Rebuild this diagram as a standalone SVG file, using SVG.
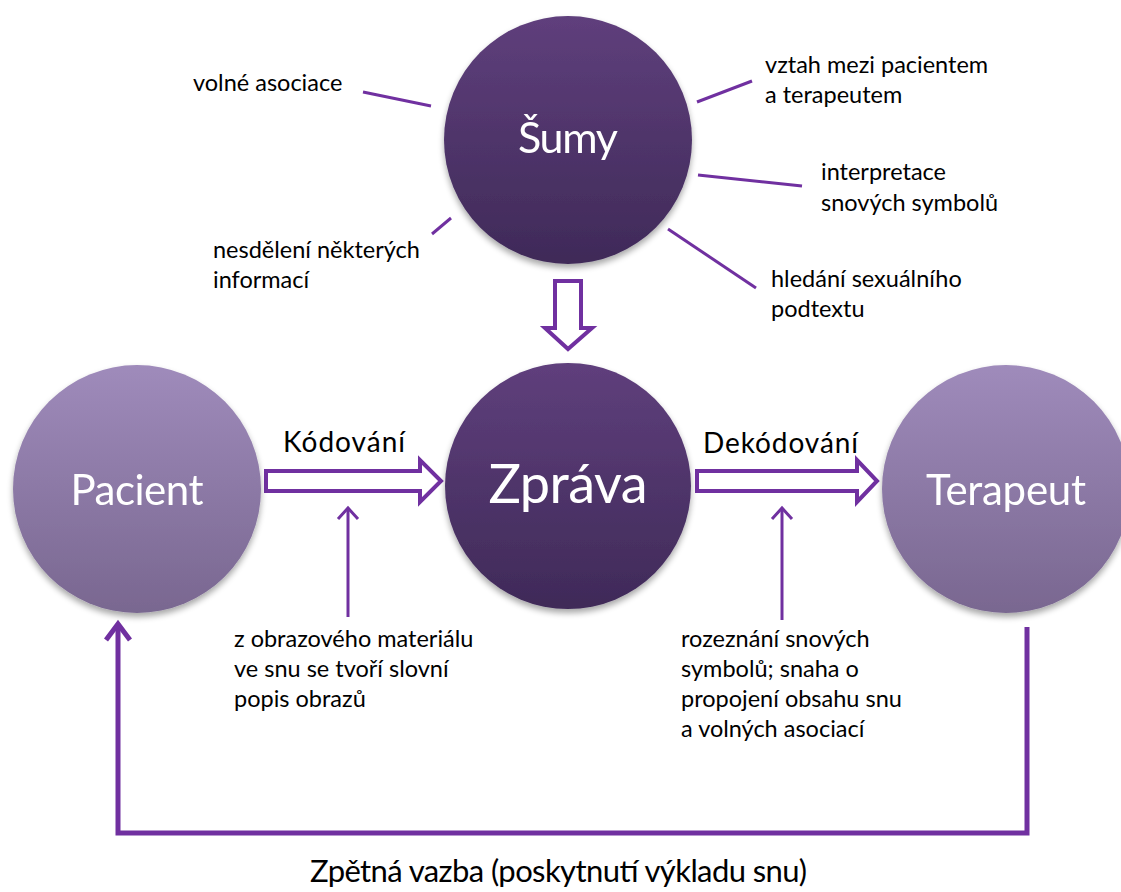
<svg xmlns="http://www.w3.org/2000/svg" width="1121" height="892" viewBox="0 0 1121 892">
<defs>
  <linearGradient id="dark" x1="0" y1="0" x2="0" y2="1">
    <stop offset="0" stop-color="#5f3f7c"/>
    <stop offset="1" stop-color="#3f2a58"/>
  </linearGradient>
  <linearGradient id="light" x1="0" y1="0" x2="0" y2="1">
    <stop offset="0" stop-color="#9f8bbb"/>
    <stop offset="1" stop-color="#796790"/>
  </linearGradient>
  <filter id="sh" x="-20%" y="-20%" width="140%" height="145%">
    <feGaussianBlur in="SourceAlpha" stdDeviation="3"/>
    <feOffset dx="0" dy="4" result="b"/>
    <feComponentTransfer><feFuncA type="linear" slope="0.35"/></feComponentTransfer>
    <feMerge><feMergeNode/><feMergeNode in="SourceGraphic"/></feMerge>
  </filter>
</defs>
<style>
  .lbl { font-family: Lato, "Open Sans", sans-serif; fill: #fff; text-anchor: middle; }
  .txt { font-family: Lato, "Open Sans", sans-serif; font-size: 23.5px; fill: #000; }
  .big { font-family: Lato, "Open Sans", sans-serif; font-size: 28px; fill: #000; }
  .ln { stroke: #7030a0; stroke-width: 3; fill: none; }
  .hollow { stroke: #7030a0; stroke-width: 4; fill: #fff; stroke-linejoin: miter; }
  .fb { stroke: #7030a0; stroke-width: 5; fill: none; stroke-linejoin: miter; }
</style>
<rect width="1121" height="892" fill="#fff"/>

<g id="connectors">
  <line class="ln" x1="363" y1="92" x2="431" y2="106"/>
  <line class="ln" x1="432" y1="234" x2="451" y2="218"/>
  <line class="ln" x1="697" y1="102" x2="752" y2="81"/>
  <line class="ln" x1="698" y1="175" x2="802" y2="186"/>
  <line class="ln" x1="668" y1="229" x2="756" y2="288"/>
  <polygon class="hollow" points="555,281 581,281 581,328 592,328 568,349 545,328 555,328"/>
  <polygon class="hollow" points="266,471 420,471 420,460 441,481 420,502 420,491 266,491"/>
  <polygon class="hollow" points="697,471 857,471 857,460 877,481 857,502 857,491 697,491"/>
  <line class="ln" x1="348" y1="617" x2="348" y2="508"/>
  <polyline class="ln" points="338,519 348,508 358,519"/>
  <line class="ln" x1="782" y1="620" x2="782" y2="508"/>
  <polyline class="ln" points="772,519 782,508 792,519"/>
  <polyline class="fb" points="1027,627 1027,833 118,833 118,624"/>
  <polyline class="fb" points="106,640 118,624 130,640"/>
</g>

<g id="sumy" filter="url(#sh)">
  <circle cx="568" cy="140" r="124" fill="url(#dark)"/>
  <text class="lbl" x="568" y="153" font-size="43" textLength="100">Šumy</text>
</g>
<g id="zprava" filter="url(#sh)">
  <circle cx="568" cy="486" r="123" fill="url(#dark)"/>
  <text class="lbl" x="568" y="503" font-size="54" textLength="159">Zpráva</text>
</g>
<g id="pacient" filter="url(#sh)">
  <circle cx="137" cy="489" r="124" fill="url(#light)"/>
  <text class="lbl" x="137" y="505" font-size="42" textLength="133">Pacient</text>
</g>
<g id="terapeut" filter="url(#sh)">
  <circle cx="1006" cy="489" r="124" fill="url(#light)"/>
  <text class="lbl" x="1006" y="505" font-size="42" textLength="160">Terapeut</text>
</g>

<g id="labels">
  <text class="big" x="283" y="452" textLength="122">Kódování</text>
  <text class="big" x="703" y="453" textLength="155">Dekódování</text>
  <text class="txt" x="193" y="91">volné asociace</text>
  <text class="txt" x="213" y="258">nesdělení některých</text>
  <text class="txt" x="213" y="288">informací</text>
  <text class="txt" x="765" y="73">vztah mezi pacientem</text>
  <text class="txt" x="765" y="103">a terapeutem</text>
  <text class="txt" x="821" y="180">interpretace</text>
  <text class="txt" x="821" y="211">snových symbolů</text>
  <text class="txt" x="771" y="287">hledání sexuálního</text>
  <text class="txt" x="771" y="317">podtextu</text>
  <text class="txt" x="234" y="647">z obrazového materiálu</text>
  <text class="txt" x="234" y="677">ve snu se tvoří slovní</text>
  <text class="txt" x="234" y="707">popis obrazů</text>
  <text class="txt" x="681" y="647">rozeznání snových</text>
  <text class="txt" x="681" y="677">symbolů; snaha o</text>
  <text class="txt" x="681" y="707">propojení obsahu snu</text>
  <text class="txt" x="681" y="737">a volných asociací</text>
  <text x="310" y="882" font-family="Lato, 'Open Sans', sans-serif" font-size="31" textLength="497" fill="#000">Zpětná vazba (poskytnutí výkladu snu)</text>
</g>
</svg>
